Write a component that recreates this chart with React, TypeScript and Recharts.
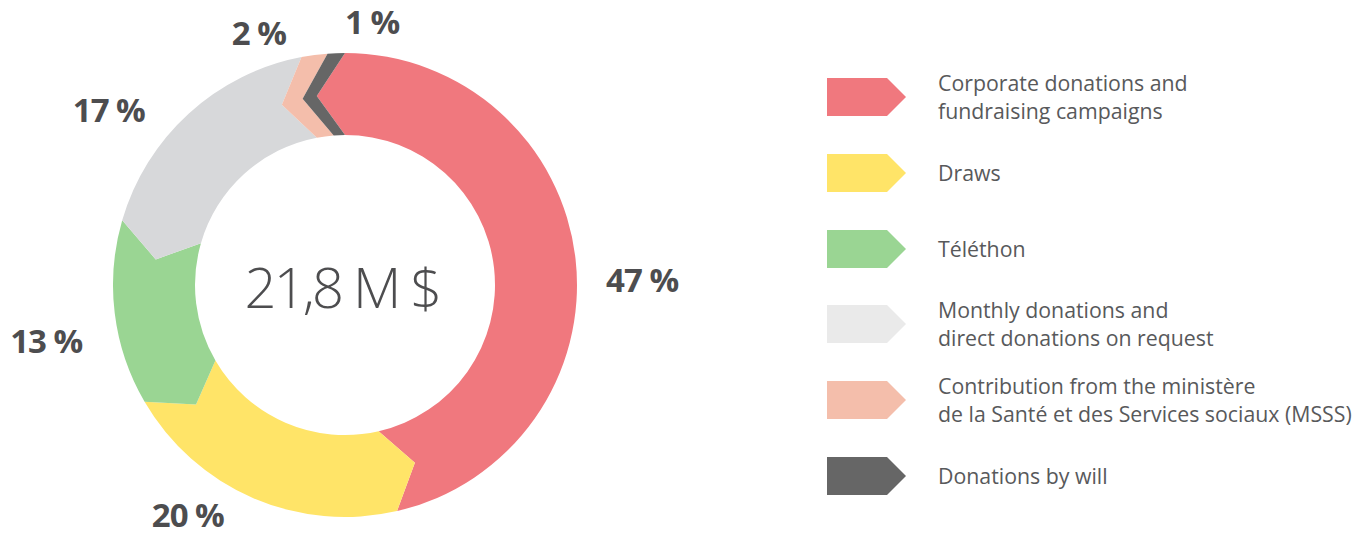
import React from 'react';
import { PieChart, Pie, Cell, Legend, Tooltip } from 'recharts';

// ---- data ----
const CATEGORIES = [
  'Corporate donations and\nfundraising campaigns',
  'Draws',
  'Téléthon',
  'Monthly donations and\ndirect donations on request',
  'Contribution from the ministère\nde la Santé et des Services sociaux (MSSS)',
  'Donations by will',
];
// shares as drawn
const SHARES = [46.4, 20.2, 12.9, 17.5, 1.8, 1.2];
// printed labels
const SHARE_LABELS = ['47 %', '20 %', '13 %', '17 %', '2 %', '1 %'];
const TOTAL_LABEL = '21,8 M $';

// ---- styles ----
const SLICE_COLORS = ['#F0787E', '#FFE468', '#9AD593', '#D7D8DA', '#F4BEAB', '#666666'];
const LEGEND_COLORS = ['#F0787E', '#FFE468', '#9AD593', '#EAEAEA', '#F4BEAB', '#666666'];
const TEXT_COLOR = '#4D4D4F';
const FONT = '"Open Sans", "Noto Sans", sans-serif';
const CX = 345;
const CY = 285;
const INNER_R = 150;
const OUTER_R = 232;
const NOTCH_DEG = 8.5;
const LABEL_R = 290;
// per-label placement nudges (dx, dy) from the mid-angle anchor
const LABEL_NUDGE: [number, number][] = [
  [9, 40],
  [-42, -24],
  [-11, 33],
  [-41, 51],
  [-48, 47],
  [38, 39],
];

const data = CATEGORIES.map((name, i) => ({ name, value: SHARES[i] }));

const RAD = Math.PI / 180;
const polar = (cx: number, cy: number, r: number, a: number) => [
  cx + r * Math.cos(-a * RAD),
  cy + r * Math.sin(-a * RAD),
];

const ChevronSector = (props: any) => {
  const { cx, cy, innerRadius: ri, outerRadius: ro, startAngle: s, endAngle: e, fill } = props;
  const rm = (ri + ro) / 2;
  const dir = s > e ? 1 : -1;
  const [x1, y1] = polar(cx, cy, ro, s);
  const [x2, y2] = polar(cx, cy, ro, e);
  const [x3, y3] = polar(cx, cy, rm, e + dir * NOTCH_DEG);
  const [x4, y4] = polar(cx, cy, ri, e);
  const [x5, y5] = polar(cx, cy, ri, s);
  const [x6, y6] = polar(cx, cy, rm, s + dir * NOTCH_DEG);
  const large = Math.abs(s - e) > 180 ? 1 : 0;
  const d = `M${x1},${y1} A${ro},${ro} 0 ${large} 1 ${x2},${y2} L${x3},${y3} L${x4},${y4} A${ri},${ri} 0 ${large} 0 ${x5},${y5} L${x6},${y6} Z`;
  return <path d={d} fill={fill} stroke="none" />;
};

const renderLabel = (props: any) => {
  const { cx, cy, midAngle, index } = props;
  const [x, y] = polar(cx, cy, LABEL_R, midAngle);
  const [dx, dy] = LABEL_NUDGE[index];
  return (
    <text
      x={x + dx}
      y={y + dy}
      textAnchor="middle"
      fill={TEXT_COLOR}
      fontFamily={FONT}
      fontWeight={700}
      fontSize={33}
      letterSpacing={-1}
    >
      {SHARE_LABELS[index]}
    </text>
  );
};

const renderLegend = () => (
  <div style={{ fontFamily: FONT, fontSize: 21.3, color: '#58595B' }}>
    {CATEGORIES.map((c, i) => (
      <div
        key={i}
        style={{
          display: 'flex',
          alignItems: 'center',
          height: 38,
          marginBottom: i < CATEGORIES.length - 1 ? 37.8 : 0,
        }}
      >
        <svg width={79} height={38} style={{ flex: 'none' }}>
          <polygon points="0,0 60,0 79,19 60,38 0,38" fill={LEGEND_COLORS[i]} />
        </svg>
        <div style={{ marginLeft: 32, lineHeight: '28px', whiteSpace: 'pre' }}>{c}</div>
      </div>
    ))}
  </div>
);

export default function App() {
  return (
    <div style={{ position: 'absolute', left: 0, top: 0, width: 1370, height: 537, background: '#fff' }}>
      <PieChart width={1370} height={537} margin={{ top: 0, right: 0, bottom: 0, left: 0 }}>
        <Pie
          data={data}
          dataKey="value"
          nameKey="name"
          cx={CX}
          cy={CY}
          innerRadius={INNER_R}
          outerRadius={OUTER_R}
          startAngle={90}
          endAngle={-270}
          stroke="none"
          isAnimationActive={false}
          label={renderLabel}
          labelLine={false}
          shape={ChevronSector}
          activeShape={ChevronSector}
          inactiveShape={ChevronSector}
        >
          {data.map((d, i) => (
            <Cell key={d.name} fill={SLICE_COLORS[i]} />
          ))}
        </Pie>
        <Tooltip defaultIndex={0} content={() => null} cursor={false} />
        <Legend
          layout="vertical"
          align="right"
          verticalAlign="top"
          content={renderLegend}
          wrapperStyle={{ left: 827, top: 78, width: 540, right: 'auto' }}
        />
        <text
          x={CX - 3}
          y={CY + 23}
          textAnchor="middle"
          fill={TEXT_COLOR}
          fontFamily={FONT}
          fontWeight={300}
          fontSize={56}
          letterSpacing={-2.8}
        >
          {TOTAL_LABEL}
        </text>
      </PieChart>
    </div>
  );
}
